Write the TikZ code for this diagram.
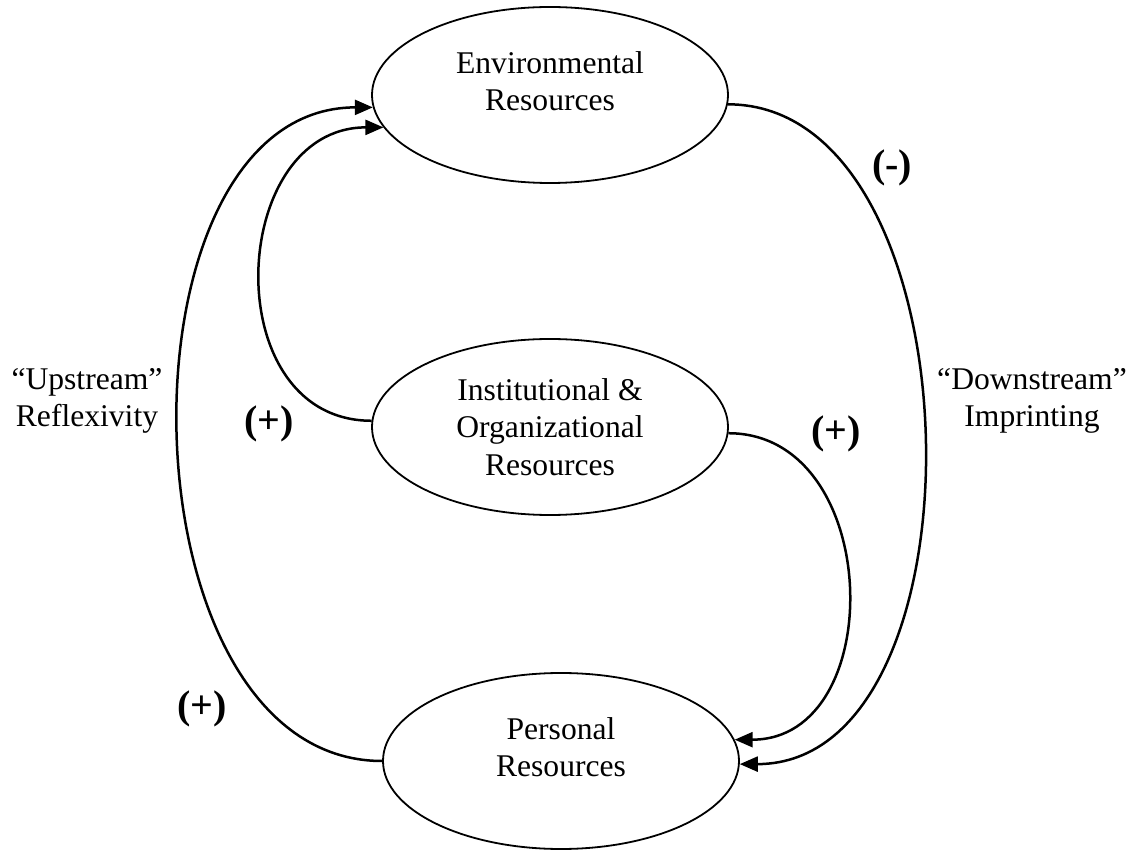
\documentclass[tikz,border=0pt]{standalone}
\usepackage{fontspec}
\setmainfont{Liberation Serif}
\usetikzlibrary{shapes.geometric,arrows.meta}
\begin{document}
\begin{tikzpicture}[x=0.5pt,y=-0.5pt,
	res/.style={ellipse,draw,line width=0.9pt,minimum width=178pt,minimum height=88pt,inner sep=0pt,align=center,font=\fontsize{15.8}{18.8}\selectfont},
	txt/.style={align=center,font=\fontsize{15.8}{18.8}\selectfont},
	sign/.style={font=\fontsize{20}{24}\selectfont\bfseries},
	link/.style={line width=1.25pt,-{Triangle[length=9pt,width=7.5pt]}}]
	\useasboundingbox (0,0) rectangle (1137,850);
	\node[res,text depth=14pt] (env) at (550,95) {Environmental\\Resources};
	\node[res] (inst) at (550,427) {Institutional \&\\Organizational\\Resources};
	\node[res,text depth=14pt] (pers) at (561,761) {Personal\\Resources};
	
	\node[txt] (up) at (87,401) {``Upstream''\\Reflexivity};
	\node[txt] (down) at (1032,401) {``Downstream''\\Imprinting};
	
	\node[sign] (minus) at (892,168) {(-)};
	\node[sign] (plusa) at (269,424) {(+)};
	\node[sign] (plusb) at (836,434) {(+)};
	\node[sign] (plusc) at (202,709) {(+)};
	
	\draw[link] (env.-3) .. controls +(253,0) and +(253,0) .. (pers.-1);
	\draw[link] (inst.-2) .. controls +(155,0) and +(155,0) .. (pers.7);
	\draw[link] (inst.178) .. controls +(-156,0) and +(-156,0) .. (env.191);
	\draw[link] (pers.180) .. controls +(-265,0) and +(-265,0) .. (env.184);
\end{tikzpicture}
\end{document}
